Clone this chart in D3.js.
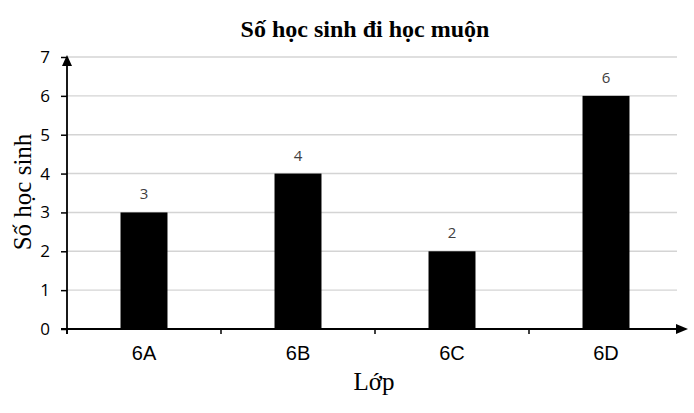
<!DOCTYPE html>
<html lang="vi">
<head>
<meta charset="UTF-8">
<script src="https://d3js.org/d3.v7.min.js"></script>
<style>
  body { margin: 0; background: #fff; }
  svg { display: block; }
</style>
</head>
<body>
<svg id="chart" width="694" height="413"></svg>
<script>
// chart data
const classes = ["6A", "6B", "6C", "6D"];
const lateCounts = [3, 4, 2, 6];
const yTicks = [0, 1, 2, 3, 4, 5, 6, 7];

const svg = d3.select("#chart");
const margin = { left: 67, right: 11, top: 57, bottom: 84 };
const width = 694 - margin.left - margin.right;
const height = 413 - margin.top - margin.bottom;

const x = d3.scaleBand().domain(classes).range([margin.left, margin.left + width]).paddingInner(0.695).paddingOuter(0.3475);
const y = d3.scaleLinear().domain([0, 7]).range([margin.top + height, margin.top]);

// gridlines
svg.append("g")
  .selectAll("line")
  .data(yTicks.slice(1))
  .enter().append("line")
  .attr("x1", margin.left).attr("x2", margin.left + width - 6)
  .attr("y1", d => y(d)).attr("y2", d => y(d))
  .attr("stroke", "#d4d4d4").attr("stroke-width", 1.4);

// bars
svg.append("g")
  .selectAll("rect")
  .data(lateCounts)
  .enter().append("rect")
  .attr("x", (d, i) => x(classes[i]))
  .attr("y", d => y(d))
  .attr("width", x.bandwidth())
  .attr("height", d => y(0) - y(d))
  .attr("fill", "#000");

// value labels
svg.append("g")
  .selectAll("text")
  .data(lateCounts)
  .enter().append("text")
  .attr("x", (d, i) => x(classes[i]) + x.bandwidth() / 2)
  .attr("y", d => y(d) - 13)
  .attr("text-anchor", "middle")
  .attr("font-family", "'Open Sans', sans-serif")
  .attr("font-size", 15)
  .attr("fill", "#404040")
  .text(d => d);

// y axis
const yAxis = svg.append("g")
  .attr("transform", `translate(${margin.left},0)`)
  .call(d3.axisLeft(y).tickValues(yTicks).tickFormat(d3.format("d")).tickSize(6).tickSizeOuter(0).tickPadding(11));
yAxis.select(".domain").remove();
yAxis.selectAll(".tick line").attr("stroke", "#000").attr("stroke-width", 1.5);
yAxis.selectAll(".tick text")
  .attr("font-family", "'Open Sans', sans-serif")
  .attr("font-size", 17)
  .attr("fill", "#000");

svg.append("line")
  .attr("x1", margin.left).attr("x2", margin.left)
  .attr("y1", y(0) + 5).attr("y2", y(7) + 6)
  .attr("stroke", "#000").attr("stroke-width", 1.8);
svg.append("path")
  .attr("d", d3.line()([[margin.left - 5, y(7) + 9], [margin.left + 5, y(7) + 9], [margin.left, y(7) - 2]]))
  .attr("fill", "#000");

// x axis
const bounds = classes.map(c => x(c) - x.step() * x.paddingInner() / 2).concat([margin.left + width]);
svg.append("line")
  .attr("x1", margin.left - 6).attr("x2", margin.left + width - 4)
  .attr("y1", y(0)).attr("y2", y(0))
  .attr("stroke", "#000").attr("stroke-width", 1.8);
svg.append("path")
  .attr("d", d3.line()([[margin.left + width - 7, y(0) - 5], [margin.left + width - 7, y(0) + 5], [margin.left + width + 5, y(0)]]))
  .attr("fill", "#000");
svg.append("g")
  .selectAll("line")
  .data(bounds.slice(0, 4))
  .enter().append("line")
  .attr("x1", d => d).attr("x2", d => d)
  .attr("y1", y(0)).attr("y2", y(0) + 5)
  .attr("stroke", "#000").attr("stroke-width", 1.5);

svg.append("g")
  .selectAll("text")
  .data(classes)
  .enter().append("text")
  .attr("x", d => x(d) + x.bandwidth() / 2)
  .attr("y", y(0) + 31)
  .attr("text-anchor", "middle")
  .attr("font-family", "'Liberation Sans', Arial, sans-serif")
  .attr("font-size", 20)
  .attr("fill", "#000")
  .text(d => d);

// titles
svg.append("text")
  .attr("x", 365).attr("y", 37)
  .attr("text-anchor", "middle")
  .attr("font-family", "'Liberation Serif', 'Times New Roman', serif")
  .attr("font-weight", "bold")
  .attr("font-size", 24)
  .text("Số học sinh đi học muộn");

svg.append("text")
  .attr("x", 374).attr("y", 390)
  .attr("text-anchor", "middle")
  .attr("font-family", "'Liberation Serif', 'Times New Roman', serif")
  .attr("font-size", 25)
  .text("Lớp");

svg.append("text")
  .attr("transform", "translate(31,192) rotate(-90)")
  .attr("text-anchor", "middle")
  .attr("font-family", "'Liberation Serif', 'Times New Roman', serif")
  .attr("font-size", 25)
  .text("Số học sinh");
</script>
</body>
</html>
